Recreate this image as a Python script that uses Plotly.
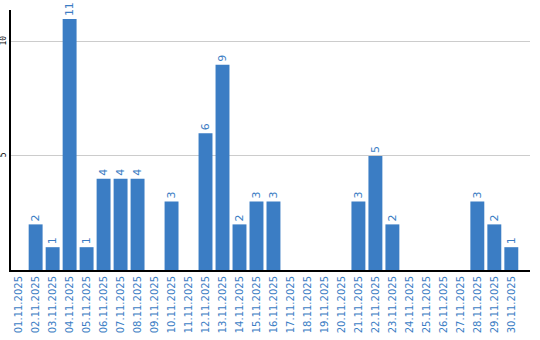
import plotly.graph_objects as go

dates = [f"{d:02d}.11.2025" for d in range(1, 31)]
values = [0, 2, 1, 11, 1, 4, 4, 4, 0, 3, 0, 6, 9, 2, 3, 3, 0, 0, 0, 0,
          3, 5, 2, 0, 0, 0, 0, 3, 2, 1]
labels = [str(v) if v > 0 else "" for v in values]

blue = "#3b7dc4"
fig = go.Figure(go.Bar(
    x=dates, y=values, marker=dict(color=blue, line=dict(width=0)),
    text=labels, textposition="outside", textangle=-90,
    textfont=dict(color=blue, size=11, family="DejaVu Sans"),
    cliponaxis=False,
))
fig.update_layout(
    width=540, height=340, margin=dict(l=11, r=10, t=10, b=70),
    plot_bgcolor="white", paper_bgcolor="white", bargap=0.18,
    showlegend=False,
    xaxis=dict(tickangle=-90, tickfont=dict(color=blue, size=10, family="DejaVu Sans"),
               showline=True, linecolor="black", linewidth=2, ticks="", showgrid=False,
               automargin=False, range=[-0.45, 30.1]),
    yaxis=dict(range=[0, 11.4], tickvals=[5, 10], tickangle=-90,
               tickfont=dict(color="black", size=8, family="DejaVu Sans Mono"),
               showline=True, linecolor="black", linewidth=2, ticks="",
               showgrid=True, gridcolor="#cccccc", gridwidth=1, zeroline=False,
               automargin=False, ticklabelstandoff=0),
)
fig.write_html("out.html")
